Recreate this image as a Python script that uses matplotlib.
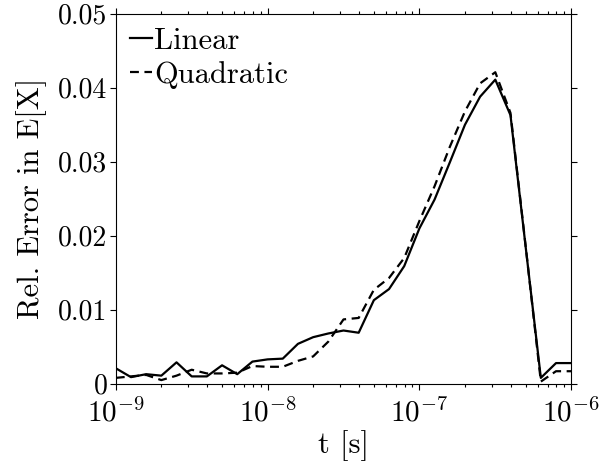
import numpy as np
import matplotlib

matplotlib.use("Agg")
import matplotlib.pyplot as plt  # noqa: E402
from matplotlib.ticker import LogLocator, NullFormatter  # noqa: E402

plt.rcParams["font.family"] = "cmr10"
plt.rcParams["mathtext.fontset"] = "cm"
plt.rcParams["axes.formatter.use_mathtext"] = True

# time grid, 0.1 decade steps from 1e-9 to 1e-6 s
log_t = [-9.0, -8.9, -8.8, -8.7, -8.6, -8.5, -8.4, -8.3, -8.2, -8.1,
         -8.0, -7.9, -7.8, -7.7, -7.6, -7.5, -7.4, -7.3, -7.2, -7.1,
         -7.0, -6.9, -6.8, -6.7, -6.6, -6.5, -6.4, -6.3, -6.2, -6.1, -6.0]

err_linear = [0.0021, 0.0009, 0.0013, 0.0011, 0.0029, 0.0010, 0.0010, 0.0025,
              0.0013, 0.0030, 0.0033, 0.0034, 0.0054, 0.0063, 0.0068, 0.0072,
              0.0069, 0.0113, 0.0128, 0.0159, 0.0210, 0.0249, 0.0299, 0.0350,
              0.0388, 0.0411, 0.0363, 0.0185, 0.0008, 0.0028, 0.0028]

err_quadratic = [0.0008, 0.0010, 0.0012, 0.0005, 0.0011, 0.0019, 0.0014, 0.0014,
                 0.0015, 0.0024, 0.0023, 0.0023, 0.0031, 0.0037, 0.0057, 0.0087,
                 0.0089, 0.0127, 0.0143, 0.0170, 0.0220, 0.0267, 0.0320, 0.0368,
                 0.0406, 0.0421, 0.0366, 0.0186, 0.0003, 0.0017, 0.0017]

y_ticks = [0, 0.01, 0.02, 0.03, 0.04, 0.05]
y_tick_labels = ["0", "0.01", "0.02", "0.03", "0.04", "0.05"]

t = 10.0 ** np.array(log_t)

fig = plt.figure(figsize=(6, 4.75), dpi=100)
ax = fig.add_axes([0.193, 0.192, 0.759, 0.779])

ax.plot(t, err_linear, color="black", lw=1.6, label="Linear")
ax.plot(t, err_quadratic, color="black", lw=1.6, ls=(0, (4, 2.5)), label="Quadratic")

ax.set_xscale("log")
ax.set_xlim(1e-9, 1e-6)
ax.set_ylim(0, 0.05)
ax.set_xticks([1e-9, 1e-8, 1e-7, 1e-6])
ax.xaxis.set_minor_locator(LogLocator(base=10, subs=np.arange(2, 10)))
ax.xaxis.set_minor_formatter(NullFormatter())
ax.set_yticks(y_ticks)
ax.set_yticklabels(y_tick_labels)

ax.tick_params(which="both", direction="out", top=True, right=True,
               labelsize=21, width=0.8, pad=2)
ax.tick_params(axis="y", labelsize=20)
ax.tick_params(axis="x", which="major", pad=6)
ax.tick_params(which="major", length=4)
ax.tick_params(which="minor", length=2.5)
for s in ax.spines.values():
    s.set_linewidth(0.8)

ax.set_xlabel("t [s]", fontsize=22, labelpad=2)
ax.set_ylabel("Rel. Error in E[X]", fontsize=22, labelpad=8)

ax.legend(loc="upper left", frameon=False, fontsize=22, handlelength=0.75,
          handletextpad=0.05, borderaxespad=0.25, labelspacing=0.2,
          borderpad=0.2)

fig.savefig("out.png", dpi=100)
